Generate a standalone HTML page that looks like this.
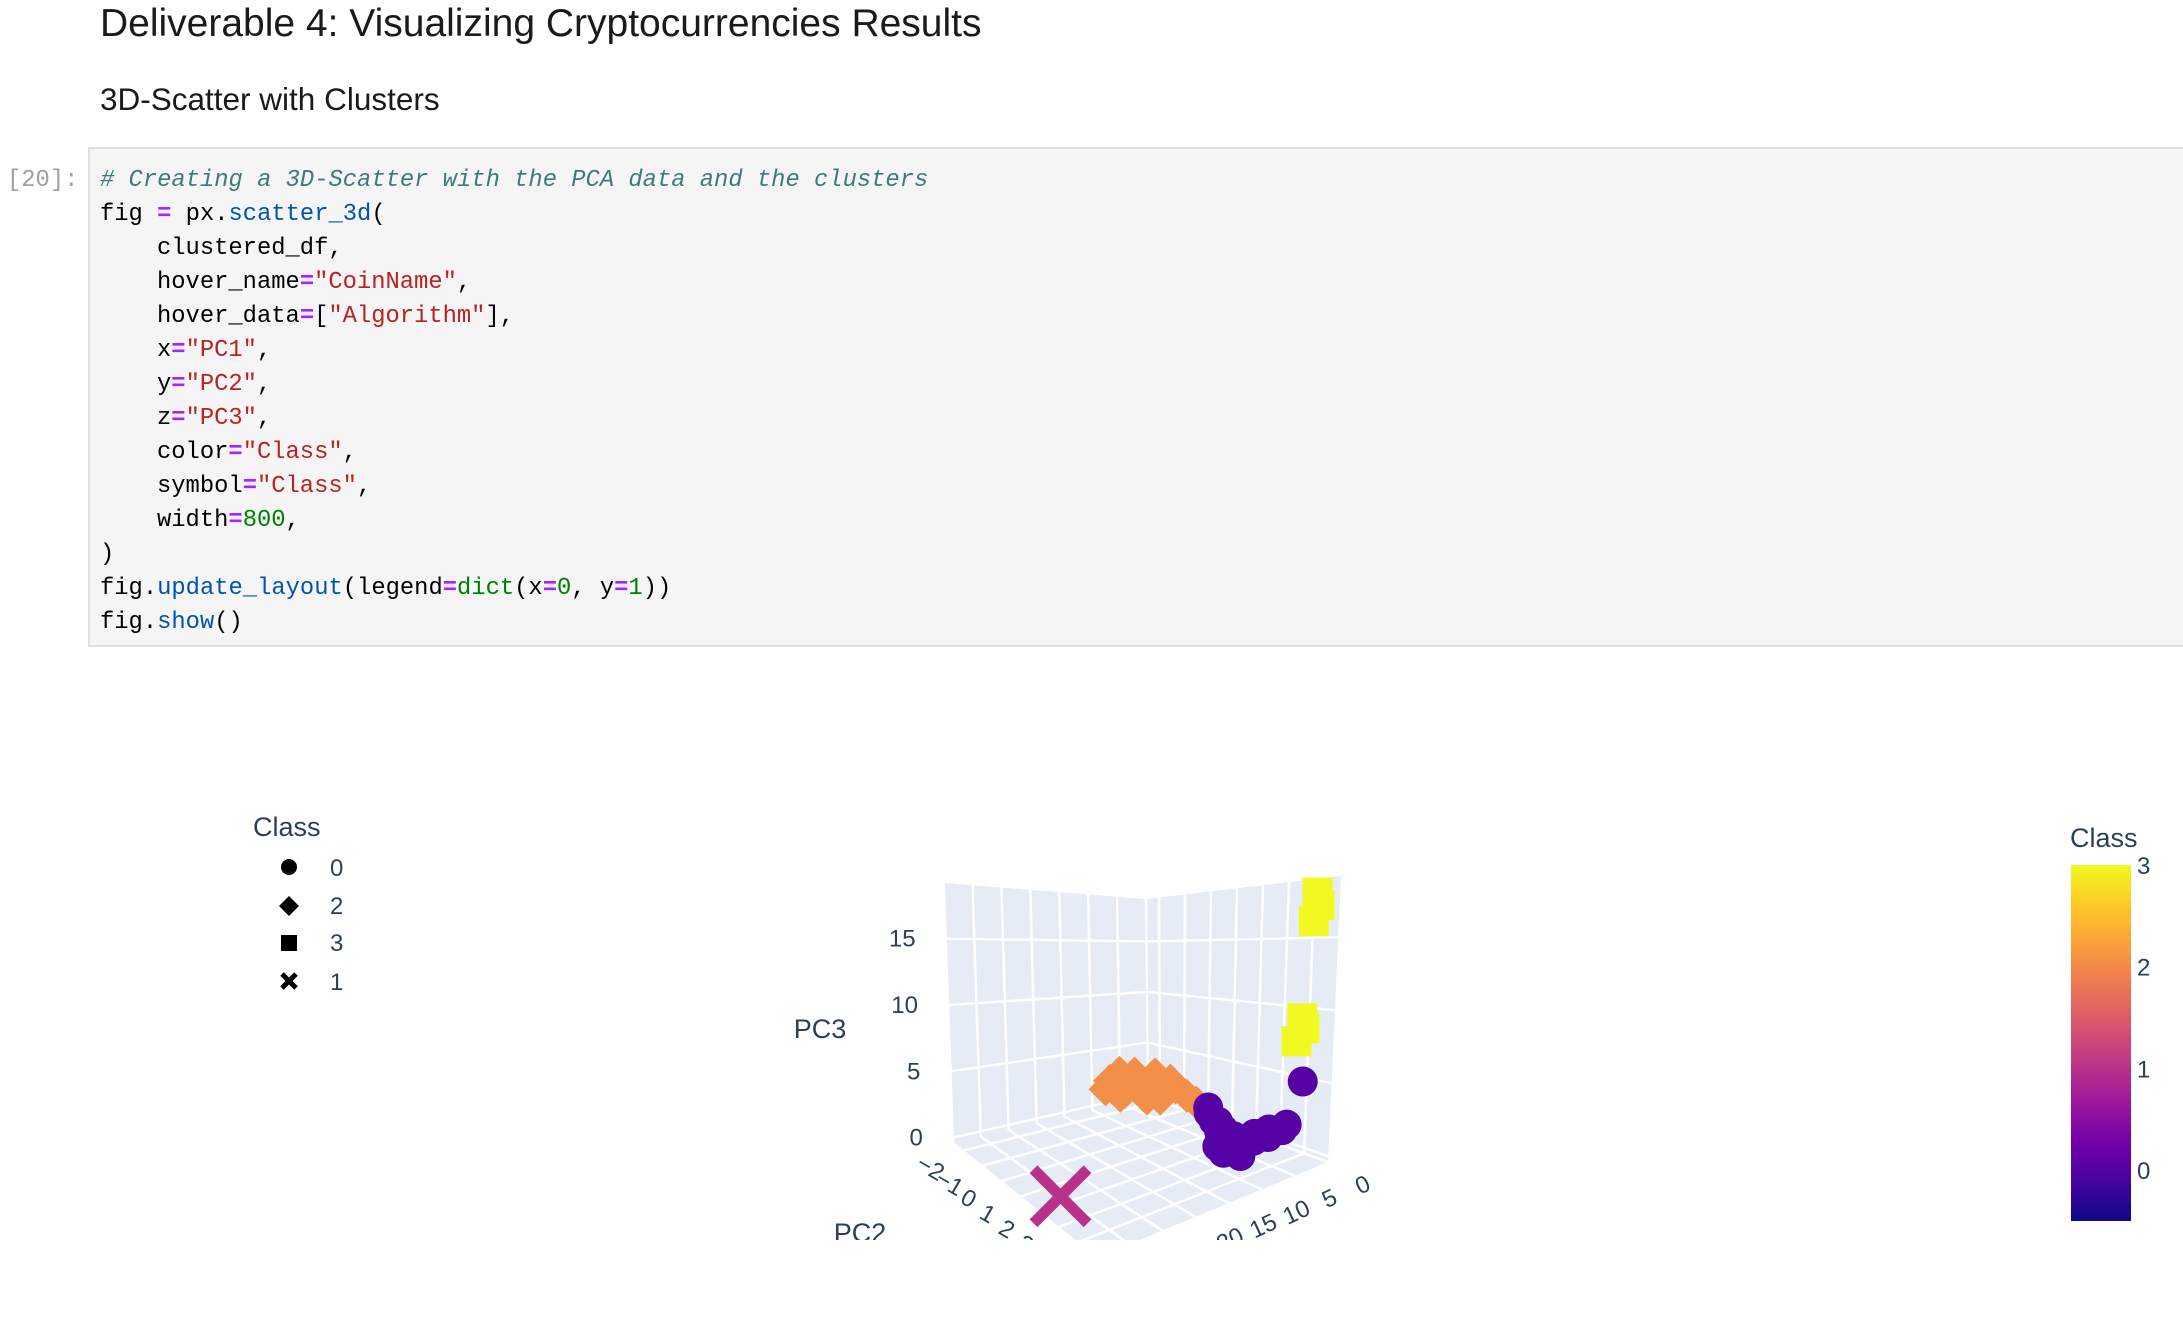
<!DOCTYPE html>
<html><head><meta charset="utf-8">
<style>
html,body{margin:0;padding:0;background:#fff;}
svg{display:block;}
.mono{font-family:"Liberation Mono",monospace;font-size:23.8px;white-space:pre;}
.sans{font-family:"Liberation Sans",sans-serif;}
</style></head>
<body>
<svg id="root" width="2183" height="1343" viewBox="0 0 2183 1343" xmlns="http://www.w3.org/2000/svg">
  <text x="100" y="36" class="sans" font-size="39" fill="#1a1a1a">Deliverable 4: Visualizing Cryptocurrencies Results</text>
  <text x="100" y="110" class="sans" font-size="31.5" fill="#1a1a1a">3D-Scatter with Clusters</text>
  <rect x="89" y="148" width="2100" height="498" fill="#f5f5f5" stroke="#e0e0e0" stroke-width="2"/>
  <text x="7" y="186" class="mono" fill="#a0a0a0">[20]:</text>
  <g class="mono">
    <text x="100" y="186" fill="#3d7b7b" font-style="italic"># Creating a 3D-Scatter with the PCA data and the clusters</text>
    <text x="100" y="220" fill="#000">fig <tspan fill="#aa22ff" font-weight="bold">=</tspan> px.<tspan fill="#0055aa">scatter_3d</tspan>(</text>
    <text x="157" y="254" fill="#000">clustered_df,</text>
    <text x="157" y="288" fill="#000">hover_name<tspan fill="#aa22ff" font-weight="bold">=</tspan><tspan fill="#ba2121">"CoinName"</tspan>,</text>
    <text x="157" y="322" fill="#000">hover_data<tspan fill="#aa22ff" font-weight="bold">=</tspan>[<tspan fill="#ba2121">"Algorithm"</tspan>],</text>
    <text x="157" y="356" fill="#000">x<tspan fill="#aa22ff" font-weight="bold">=</tspan><tspan fill="#ba2121">"PC1"</tspan>,</text>
    <text x="157" y="390" fill="#000">y<tspan fill="#aa22ff" font-weight="bold">=</tspan><tspan fill="#ba2121">"PC2"</tspan>,</text>
    <text x="157" y="424" fill="#000">z<tspan fill="#aa22ff" font-weight="bold">=</tspan><tspan fill="#ba2121">"PC3"</tspan>,</text>
    <text x="157" y="458" fill="#000">color<tspan fill="#aa22ff" font-weight="bold">=</tspan><tspan fill="#ba2121">"Class"</tspan>,</text>
    <text x="157" y="492" fill="#000">symbol<tspan fill="#aa22ff" font-weight="bold">=</tspan><tspan fill="#ba2121">"Class"</tspan>,</text>
    <text x="157" y="526" fill="#000">width<tspan fill="#aa22ff" font-weight="bold">=</tspan><tspan fill="#008000">800</tspan>,</text>
    <text x="100" y="560" fill="#000">)</text>
    <text x="100" y="594" fill="#000">fig.<tspan fill="#0055aa">update_layout</tspan>(legend<tspan fill="#aa22ff" font-weight="bold">=</tspan><tspan fill="#008000">dict</tspan>(x<tspan fill="#aa22ff" font-weight="bold">=</tspan><tspan fill="#008000">0</tspan>, y<tspan fill="#aa22ff" font-weight="bold">=</tspan><tspan fill="#008000">1</tspan>))</text>
    <text x="100" y="628" fill="#000">fig.<tspan fill="#0055aa">show</tspan>()</text>
  </g>

  <g class="sans" fill="#2a3f5f">
    <text x="253" y="836" font-size="27">Class</text>
    <g><circle cx="289" cy="867" r="8" fill="#000"/><text x="330" y="876" font-size="24">0</text></g>
    <g><polygon points="289,896 299,906 289,916 279,906" fill="#000"/><text x="330" y="914" font-size="24">2</text></g>
    <g><rect x="281" y="935" width="16" height="16" fill="#000"/><text x="330" y="951" font-size="24">3</text></g>
    <g><path d="M282,974 L296,988 M296,974 L282,988" stroke="#000" stroke-width="5"/><text x="330" y="990" font-size="24">1</text></g>
  </g>

  <defs>
    <linearGradient id="plasma" x1="0" y1="1" x2="0" y2="0">
      <stop offset="0" stop-color="#0d0887"/><stop offset="0.111" stop-color="#46039f"/>
      <stop offset="0.222" stop-color="#7201a8"/><stop offset="0.333" stop-color="#9c179e"/>
      <stop offset="0.444" stop-color="#bd3786"/><stop offset="0.556" stop-color="#d8576b"/>
      <stop offset="0.667" stop-color="#ed7953"/><stop offset="0.778" stop-color="#fb9f3a"/>
      <stop offset="0.889" stop-color="#fdca26"/><stop offset="1" stop-color="#f0f921"/>
    </linearGradient>
    <clipPath id="sceneClip"><rect x="0" y="650" width="2183" height="590"/></clipPath>
  </defs>
  <g class="sans" fill="#2a3f5f">
    <text x="2070" y="847" font-size="27">Class</text>
    <rect x="2071" y="865" width="60" height="356" fill="url(#plasma)"/>
    <g id="cbTicks" font-size="24"></g>
  </g>

  <g id="scene" clip-path="url(#sceneClip)"></g>
</svg>
<script>
// ---- data ----
const class0PC1 = [3.5,3.5,4.2,4.9,6.3,5.6,4.2,3.5,2.8,7.0,6.3,1.4,4.0,5.0,6.0,5.5,4.5,3.0,2.5,7.5,7.0];
const class0PC2 = [0.9,1.3,1.7,2.0,2.3,2.6,3.0,3.4,3.8,2.2,2.8,4.2,1.0,1.5,2.0,2.5,3.1,3.3,3.9,2.6,3.2];
const class0PC3 = [1.2,0.8,0.6,0.3,0.2,0.4,0.6,1.0,1.6,0.1,0.0,5.0,1.8,1.2,0.9,0.8,1.2,1.4,2.0,0.0,0.1];
const class2PC1 = [8.4,7.7,7.0,6.3,5.6,4.9,4.2,3.5,2.8,2.8,7.0,5.6,8.0,6.5,5.0,4.0,7.5,6.0,4.5];
const class2PC2 = [-2.3,-2.0,-1.8,-1.6,-1.4,-1.1,-0.8,-0.5,-0.2,0.2,-2.0,-1.2,-2.2,-1.5,-1.0,-0.6,-1.9,-1.3,-0.9];
const class2PC3 = [1.5,2.6,1.5,2.8,2.2,3.0,2.0,2.4,1.8,1.5,1.0,1.2,2.3,3.3,3.4,3.0,3.2,1.8,1.3];
const class3PC1 = [0.7,0.7,0.7,0.7,0.7,0.7];
const class3PC2 = [4.3,4.4,4.2,3.9,4.0,3.7];
const class3PC3 = [18.2,17.3,16.2,9.3,8.6,7.6];
const class1PC1 = [31.5];
const class1PC2 = [2.0];
const class1PC3 = [0.1];
const pc1Ticks = [0,5,10,15,20,25,30,35];
const pc2Ticks = [-2,-1,0,1,2,3,4];
const pc3Ticks = [0,5,10,15];
const colorbarTicks = [0,1,2,3];

// ---- projection ----
const NS = "http://www.w3.org/2000/svg";
const R1 = [0,35], R2 = [-2.5,5], R3 = [-0.4,19.2];
const B=[1148,1097], L=[953,1143], R=[1328,1162], F=[1096,1258];
const H=[198,260,286,375], DX=[-2,-9.4,13,5.6];
function bil(a,b,c,d,u,v){return a+u*(b-a)+v*(c-a)+u*v*(d-b-c+a);}
function proj(p1,p2,p3){
  const u=(p1-R1[0])/(R1[1]-R1[0]), v=(p2-R2[0])/(R2[1]-R2[0]), w=(p3-R3[0])/(R3[1]-R3[0]);
  const x=bil(B[0],L[0],R[0],F[0],u,v)+w*bil(DX[0],DX[1],DX[2],DX[3],u,v);
  const y=bil(B[1],L[1],R[1],F[1],u,v)-w*bil(H[0],H[1],H[2],H[3],u,v);
  return [x,y,u+v];
}
const scene=document.getElementById('scene');
function mk(tag,attrs,parent){const e=document.createElementNS(NS,tag);for(const k in attrs)e.setAttribute(k,attrs[k]);(parent||scene).appendChild(e);return e;}
function poly(pts){return pts.map(p=>p[0].toFixed(1)+','+p[1].toFixed(1)).join(' ');}
const bg='#e5ecf6';
const z0=R3[0], z1=R3[1], x1=R1[1];
let e;
e=mk('polygon',{points:poly([proj(0,R2[0],z0),proj(x1,R2[0],z0),proj(x1,R2[0],z1),proj(0,R2[0],z1)]),fill:bg});


e=mk('polygon',{points:poly([proj(0,R2[0],z0),proj(0,R2[1],z0),proj(0,R2[1],z1),proj(0,R2[0],z1)]),fill:bg});


e=mk('polygon',{points:poly([proj(0,R2[0],z0),proj(x1,R2[0],z0),proj(x1,R2[1],z0),proj(0,R2[1],z0)]),fill:bg});


function line(a,b,name){const l=mk('line',{x1:a[0],y1:a[1],x2:b[0],y2:b[1],stroke:'#fff','stroke-width':2.5});
  
  }
pc1Ticks.forEach(t=>{line(proj(t,R2[0],z0),proj(t,R2[0],z1),'pc1-wall-gridline');line(proj(t,R2[0],z0),proj(t,R2[1],z0),'pc1-floor-gridline');});
pc2Ticks.forEach(t=>{line(proj(0,t,z0),proj(0,t,z1),'pc2-wall-gridline');line(proj(0,t,z0),proj(x1,t,z0),'pc2-floor-gridline');});
pc3Ticks.forEach(t=>{line(proj(0,R2[0],t),proj(x1,R2[0],t),'pc3-left-gridline');line(proj(0,R2[0],t),proj(0,R2[1],t),'pc3-right-gridline');});

const txt=(x,y,s,attrs,name)=>{const t=mk('text',Object.assign({x:x,y:y,'font-family':'Liberation Sans, sans-serif','font-size':24,fill:'#2a3f5f'},attrs||{}));t.textContent=s;
  
  return t;};
pc3Ticks.forEach(t=>{const p=proj(x1,R2[0],t);txt(p[0]-30,p[1]+8,String(t),{'text-anchor':'end'},'pc3-tick-label');});
pc2Ticks.forEach(t=>{const p=proj(x1,t,z0);const x=p[0]-36,y=p[1]+24;txt(x,y,String(t).replace('-','\u2212'),{'text-anchor':'middle',transform:`rotate(30 ${x} ${y})`},'pc2-tick-label');});
pc1Ticks.forEach(t=>{const p=proj(t,R2[1],z0);const x=p[0]+38,y=p[1]+30;txt(x,y,String(t),{'text-anchor':'middle',transform:`rotate(-25 ${x} ${y})`},'pc1-tick-label');});
txt(820,1038,'PC3',{'font-size':27,'text-anchor':'middle'},'pc3-axis-title');
txt(860,1242,'PC2',{'font-size':27,'text-anchor':'middle'},'pc2-axis-title');

const pts=[];
function add(a1,a2,a3,cls,col){for(let i=0;i<a1.length;i++){const p=proj(a1[i],a2[i],a3[i]);pts.push({x:p[0],y:p[1],d:p[2],cls:cls,col:col});}}
add(class0PC1,class0PC2,class0PC3,0,'#5402a3');
add(class2PC1,class2PC2,class2PC3,2,'#f48f4a');
add(class3PC1,class3PC2,class3PC3,3,'#f0f921');
add(class1PC1,class1PC2,class1PC3,1,'#b83289');
pts.sort((a,b)=>a.d-b.d);
pts.forEach(p=>{
  let m;
  if(p.cls===0){m=mk('circle',{cx:p.x,cy:p.y,r:15,fill:p.col});}
  else if(p.cls===2){m=mk('polygon',{points:`${p.x},${p.y-17} ${p.x+17},${p.y} ${p.x},${p.y+17} ${p.x-17},${p.y}`,fill:p.col});}
  else if(p.cls===3){m=mk('rect',{x:p.x-15,y:p.y-15,width:30,height:30,fill:p.col});}
  else {m=mk('path',{d:`M${p.x-27},${p.y-27} L${p.x+27},${p.y+27} M${p.x+27},${p.y-27} L${p.x-27},${p.y+27}`,stroke:p.col,'stroke-width':11});}
  
  
});

const cb=document.getElementById('cbTicks');
colorbarTicks.forEach(t=>{const y=1170-(t*101.7);const el=document.createElementNS(NS,'text');
  el.setAttribute('x',2137);el.setAttribute('y',y+9);el.textContent=String(t);
  
  
  cb.appendChild(el);});
</script>
</body></html>
